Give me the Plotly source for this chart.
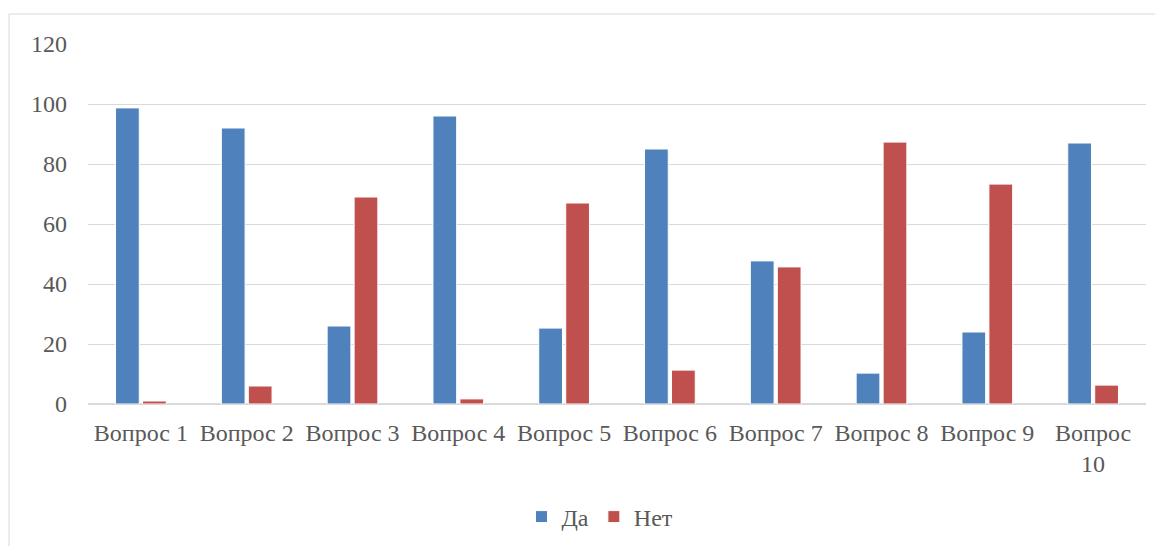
import plotly.graph_objects as go

categories = ["Вопрос 1", "Вопрос 2", "Вопрос 3", "Вопрос 4", "Вопрос 5",
              "Вопрос 6", "Вопрос 7", "Вопрос 8", "Вопрос 9", "Вопрос<br>10"]
da = [98.7, 92, 26, 96, 25.3, 85, 47.7, 10.3, 24, 87]
net = [1, 6, 69, 1.7, 67, 11.3, 45.7, 87.3, 73.3, 6.3]
y_ticks = [0, 20, 40, 60, 80, 100, 120]

# page body adds an 8px offset; the figure is sized to fill the rest
OFF = 8
W, H = 1163 - OFF, 546 - OFF
L, R, T, B = 88 - OFF, 17, 44 - OFF, 142
pw, ph = W - L - R, H - T - B

FONT = "Liberation Serif"
FS = 24
fig = go.Figure()
fig.add_trace(go.Bar(x=categories, y=da, name="Да", marker_color="#4f81bd",
                     marker_line=dict(color="white", width=1)))
fig.add_trace(go.Bar(x=categories, y=net, name="Нет", marker_color="#c0504d",
                     marker_line=dict(color="white", width=1)))

def px_x(p):
    return (p - OFF - L) / pw

def px_y(p):
    return (H - B - (p - OFF)) / ph

fig.update_layout(
    width=W, height=H,
    margin=dict(l=L, r=R, t=T, b=B, autoexpand=False),
    paper_bgcolor="white", plot_bgcolor="white",
    barmode="group", bargap=0.49, bargroupgap=0.12,
    font=dict(family=FONT, size=FS, color="#595959"),
    showlegend=True,
    legend=dict(orientation="h", x=px_x(600), xanchor="center", y=px_y(517), yanchor="middle",
                font=dict(family=FONT, size=FS, color="#595959"),
                traceorder="normal"),
    xaxis=dict(showgrid=False, showline=True, linecolor="#d9d9d9", linewidth=1,
               ticks="", automargin=False, ticklabelstandoff=7,
               tickfont=dict(family=FONT, size=FS, color="#595959")),
    yaxis=dict(range=[0, 120], tickvals=y_ticks, showgrid=True, gridcolor="#d9d9d9",
               gridwidth=1, zeroline=True, zerolinecolor="#d9d9d9", showline=False,
               ticks="", ticklabelstandoff=20, automargin=False,
               tickfont=dict(family=FONT, size=FS, color="#595959")),
    shapes=[dict(type="rect", xref="paper", yref="paper",
                 x0=px_x(9), x1=px_x(1200), y0=px_y(600), y1=px_y(14),
                 line=dict(color="#d9d9d9", width=1), fillcolor="rgba(0,0,0,0)",
                 layer="below")],
)

fig.write_html("out.html")
